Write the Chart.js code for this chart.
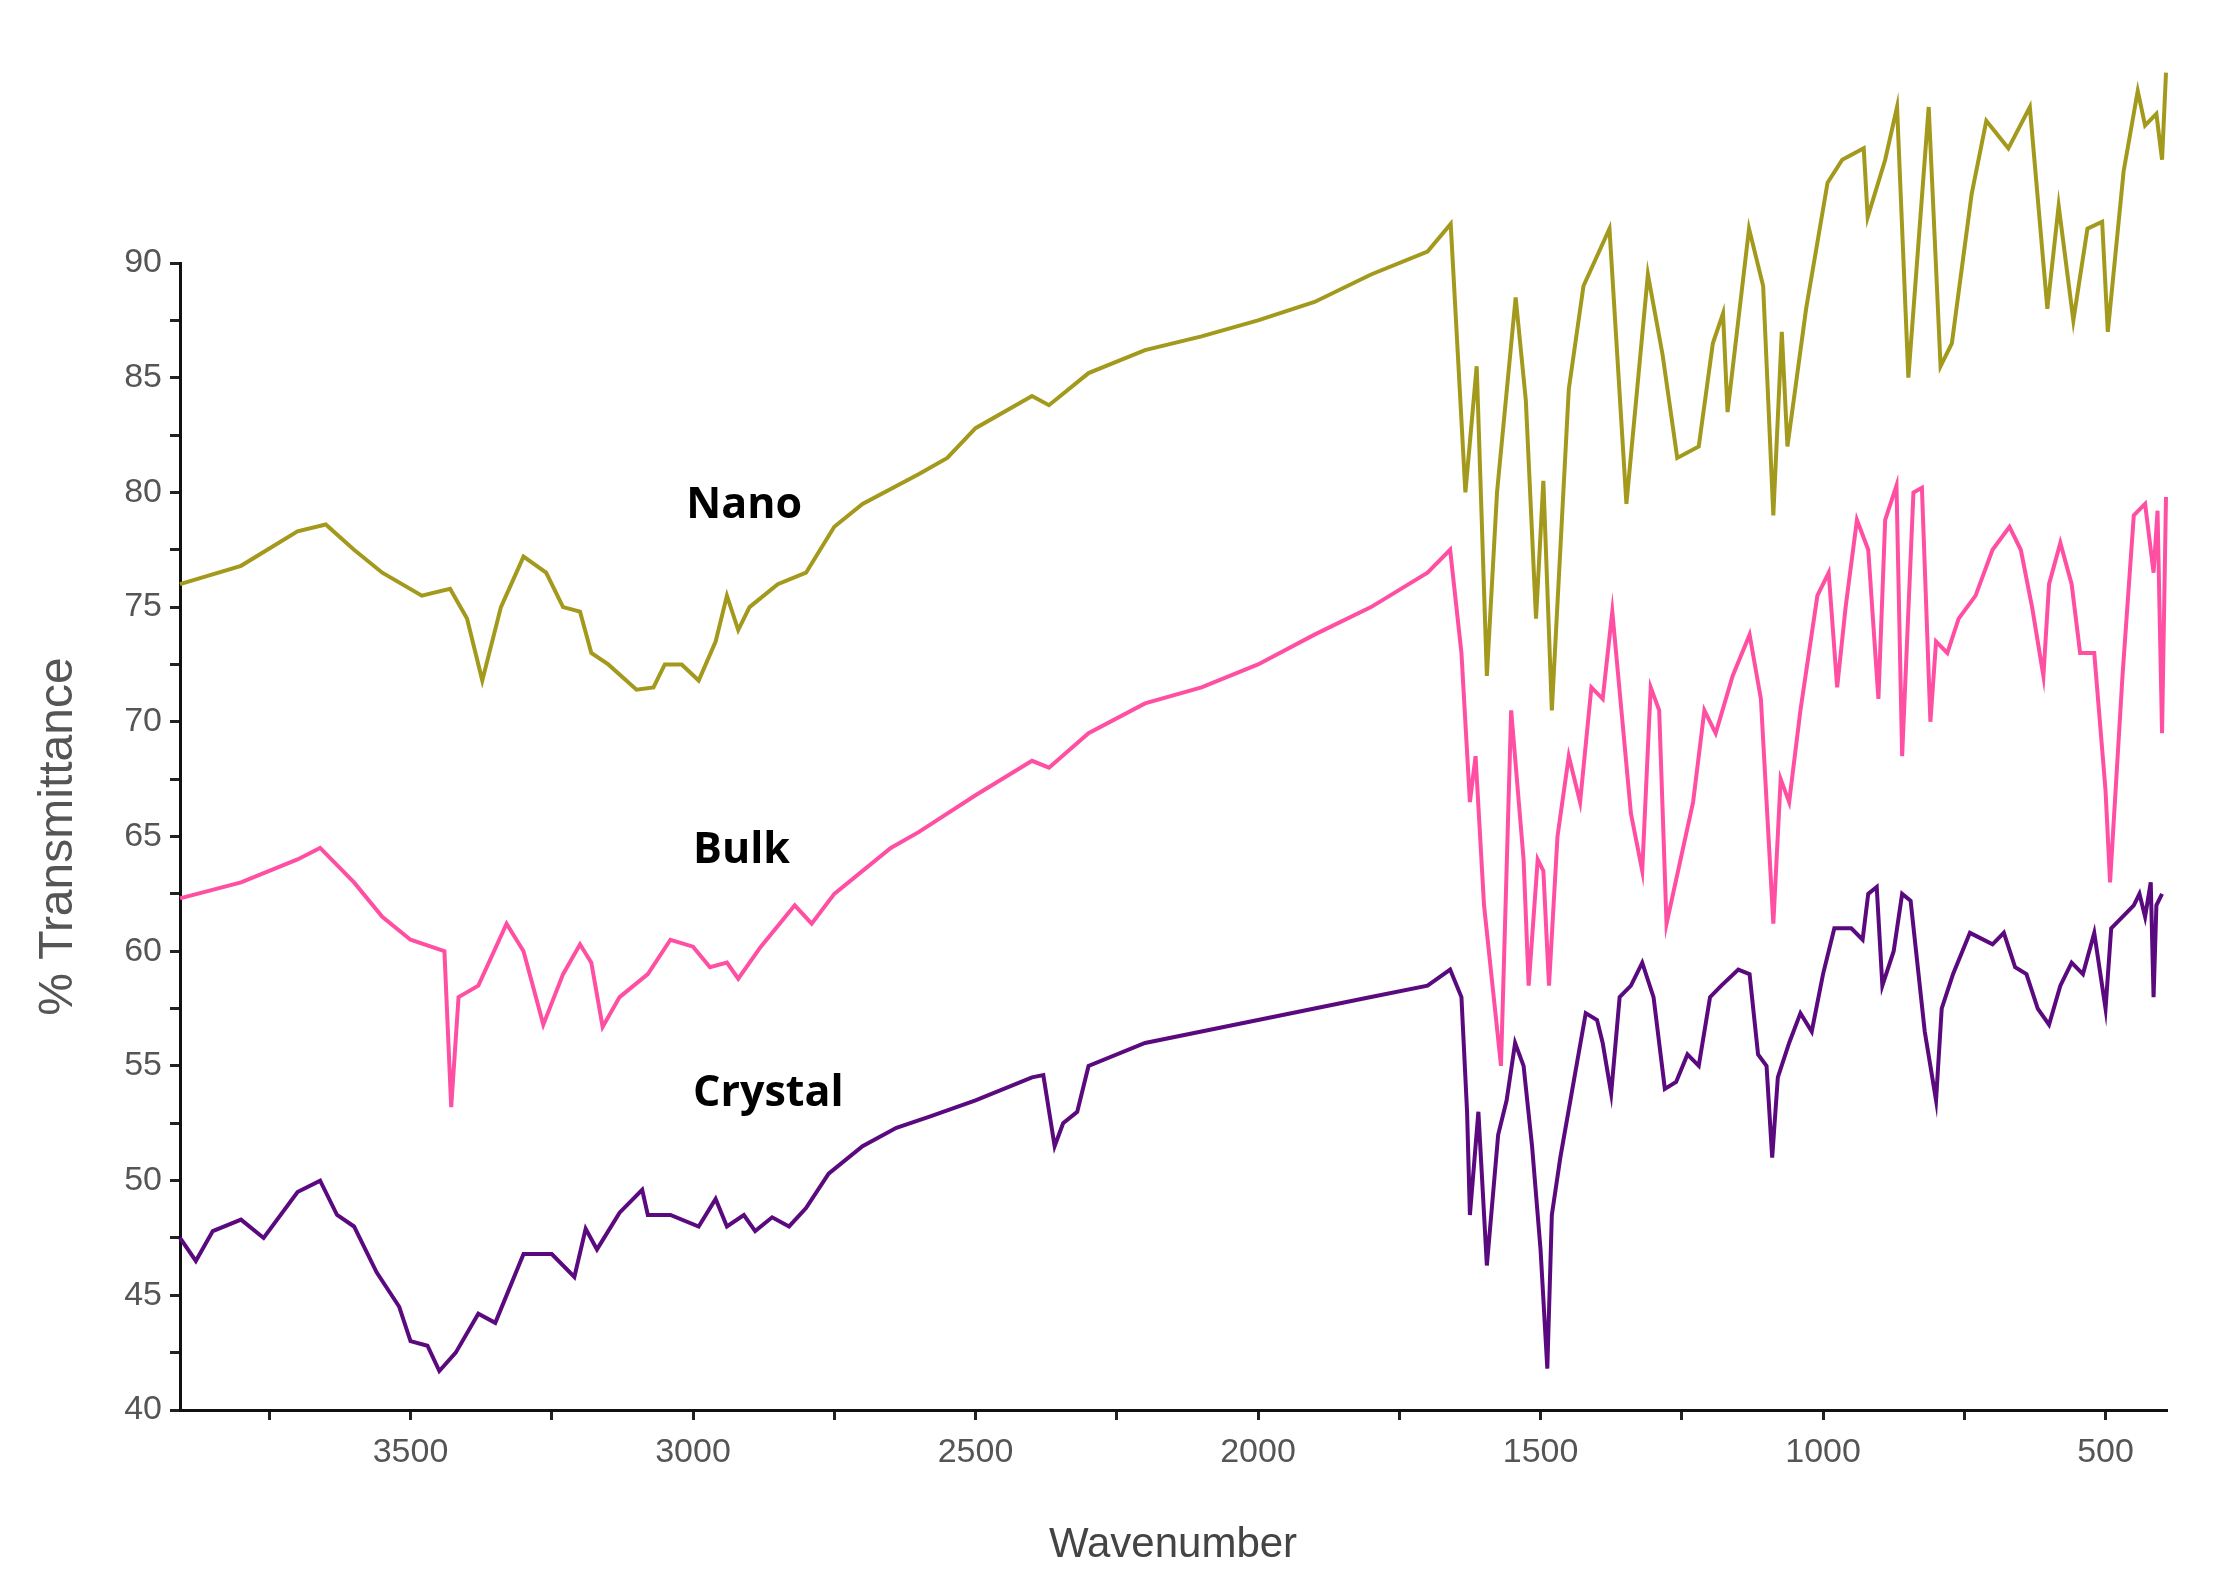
<!DOCTYPE html>
<html><head><meta charset="utf-8">
<script src="https://cdn.jsdelivr.net/npm/chart.js@4"></script>
<style>html,body{margin:0;padding:0;background:#fff}</style>
</head><body>
<canvas id="c" width="2231" height="1596"></canvas>
<script>
const nanoWN=[3908,3800,3700,3650,3600,3550,3480,3430,3400,3373,3340,3300,3260,3230,3200,3180,3150,3100,3070,3050,3020,2990,2960,2940,2920,2900,2850,2800,2750,2700,2600,2550,2500,2400,2370,2300,2200,2100,2000,1900,1800,1700,1659,1633,1613,1595,1577,1544,1526,1508,1495,1480,1450,1424,1378,1348,1310,1284,1258,1220,1195,1177,1169,1131,1106,1088,1073,1063,1030,992,966,928,921,890,869,849,813,792,772,737,711,672,634,603,583,557,532,506,496,468,443,430,410,400,393];
const nanoT=[76,76.8,78.3,78.6,77.5,76.5,75.5,75.8,74.5,71.8,75,77.2,76.5,75,74.8,73,72.5,71.4,71.5,72.5,72.5,71.8,73.5,75.5,74,75,76,76.5,78.5,79.5,80.8,81.5,82.8,84.2,83.8,85.2,86.2,86.8,87.5,88.3,89.5,90.5,91.7,80,85.5,72,80,88.5,84,74.5,80.5,70.5,84.5,89,91.5,79.5,89.5,86,81.5,82,86.5,87.8,83.5,91.5,89,79,87,82,88,93.5,94.5,95,92,94.5,96.8,85,96.8,85.5,86.5,93,96.2,95,96.8,88,92.5,87.5,91.5,91.8,87,94,97.5,96,96.5,94.5,98.3];
const bulkWN=[3908,3800,3700,3660,3600,3550,3500,3440,3428,3415,3380,3330,3300,3265,3230,3200,3180,3160,3130,3080,3040,3000,2970,2940,2920,2880,2820,2790,2750,2650,2600,2500,2400,2370,2300,2200,2100,2000,1900,1800,1700,1660,1640,1625,1615,1600,1570,1552,1530,1521,1505,1495,1485,1470,1450,1430,1410,1390,1373,1340,1320,1305,1290,1277,1230,1210,1190,1160,1130,1110,1088,1075,1060,1040,1010,990,975,960,940,920,902,890,870,860,840,825,810,800,780,760,730,700,670,650,630,610,600,580,560,545,520,500,492,470,450,430,415,408,400,393];
const bulkT=[62.3,63,64,64.5,63,61.5,60.5,60,53.2,58,58.5,61.2,60,56.8,59,60.3,59.5,56.7,58,59,60.5,60.2,59.3,59.5,58.8,60.2,62,61.2,62.5,64.5,65.2,66.8,68.3,68,69.5,70.8,71.5,72.5,73.8,75,76.5,77.5,73,66.5,68.5,62,55,70.5,64,58.5,64,63.5,58.5,65,68.5,66.5,71.5,71,74.8,66,63.5,71.5,70.5,61.2,66.5,70.5,69.5,72,73.8,71,61.2,67.5,66.5,70.5,75.5,76.5,71.5,75,78.8,77.5,71,78.8,80.3,68.5,80,80.2,70,73.5,73,74.5,75.5,77.5,78.5,77.5,75,72,76,77.8,76,73,73,67,63,72,79,79.5,76.5,79.2,69.5,79.8];
const crysWN=[3908,3880,3850,3800,3760,3700,3660,3630,3600,3560,3520,3500,3470,3449,3420,3380,3350,3300,3250,3210,3190,3170,3130,3090,3080,3040,2990,2960,2940,2910,2890,2860,2830,2800,2760,2700,2640,2580,2500,2400,2380,2360,2345,2320,2300,2200,2100,2000,1900,1800,1700,1660,1640,1630,1625,1610,1595,1575,1560,1545,1530,1515,1500,1488,1480,1465,1440,1420,1400,1390,1375,1360,1340,1320,1300,1280,1260,1240,1220,1200,1180,1150,1130,1115,1100,1090,1080,1060,1040,1020,1000,980,950,930,920,905,895,875,860,845,820,800,790,770,740,700,680,660,640,620,600,580,560,540,520,500,490,470,450,440,430,420,415,410,400];
const crysT=[47.5,46.5,47.8,48.3,47.5,49.5,50,48.5,48,46,44.5,43,42.8,41.7,42.5,44.2,43.8,46.8,46.8,45.8,47.9,47,48.6,49.6,48.5,48.5,48,49.2,48,48.5,47.8,48.4,48,48.8,50.3,51.5,52.3,52.8,53.5,54.5,54.6,51.5,52.5,53,55,56,56.5,57,57.5,58,58.5,59.2,58,53,48.5,53,46.3,52,53.5,56,55,51.5,47,41.8,48.5,51,54.5,57.3,57,56,53.8,58,58.5,59.5,58,54,54.3,55.5,55,58,58.5,59.2,59,55.5,55,51,54.5,56,57.3,56.5,59,61,61,60.5,62.5,62.8,58.5,60,62.5,62.2,56.5,53.5,57.5,59,60.8,60.3,60.8,59.3,59,57.5,56.8,58.5,59.5,59,60.8,57.5,61,61.5,62,62.5,61.5,63,58,62,62.5];
const seriesNames=['Nano','Bulk','Crystal'];
const xTicks=[3750,3500,3250,3000,2750,2500,2250,2000,1750,1500,1250,1000,750,500];
const yTicks=[40,42.5,45,47.5,50,52.5,55,57.5,60,62.5,65,67.5,70,72.5,75,77.5,80,82.5,85,87.5,90];
const labelPos=[[3012,79.4],[3000,64.4],[3000,53.8]];

const mk=(wn,t)=>wn.map((w,i)=>({x:w,y:t[i]}));
const labelsPlugin={id:'lbl',afterDatasetsDraw(ch){
  const c=ch.ctx,xs=ch.scales.x,ys=ch.scales.y;
  c.save();c.fillStyle='#000';c.font='bold 43px "Open Sans"';c.textBaseline='middle';
  seriesNames.forEach((n,i)=>c.fillText(n,xs.getPixelForValue(labelPos[i][0]),ys.getPixelForValue(labelPos[i][1])));
  c.restore();}};
const tickFont={family:'"Liberation Sans Narrow","Liberation Sans",Arial',size:34};
new Chart(document.getElementById('c'),{
  type:'line',
  data:{datasets:[
    {label:'Nano',data:mk(nanoWN,nanoT),borderColor:'#a39a1d'},
    {label:'Bulk',data:mk(bulkWN,bulkT),borderColor:'#ff4fa3'},
    {label:'Crystal',data:mk(crysWN,crysT),borderColor:'#5a0a7e'}
  ].map(d=>Object.assign(d,{pointRadius:0,borderWidth:4,tension:0,clip:false,fill:false}))},
  options:{responsive:false,animation:false,
    layout:{padding:{top:263,right:65,left:0,bottom:0}},
    plugins:{legend:{display:false},tooltip:{enabled:false}},
    scales:{
      x:{type:'linear',reverse:true,min:393,max:3908,
        afterBuildTicks:s=>{s.ticks=xTicks.map(v=>({value:v}));},
        afterFit:s=>{s.height=186;},
        ticks:{autoSkip:false,maxRotation:0,color:'#555',font:tickFont,padding:12,callback:v=>v%500===0?String(v):''},
        grid:{drawOnChartArea:false,tickLength:10,color:'#222',lineWidth:3},
        border:{color:'#111',width:3},
        title:{display:true,text:'Wavenumber',color:'#444',font:{family:'"Liberation Sans Narrow","Liberation Sans",Arial',size:42},padding:{top:20,bottom:25}}},
      y:{min:40,max:90,
        afterBuildTicks:s=>{s.ticks=yTicks.map(v=>({value:v}));},
        afterFit:s=>{s.width=180;},
        ticks:{autoSkip:false,color:'#555',font:tickFont,padding:8,callback:v=>v%5===0?String(v):''},
        grid:{drawOnChartArea:false,tickLength:10,color:'#222',lineWidth:3},
        border:{color:'#111',width:3},
        title:{display:true,text:'% Transmittance',color:'#555',font:{family:'"Liberation Sans",Arial',size:48},padding:{top:30,bottom:0}}}
    }},
  plugins:[labelsPlugin]
});
</script></body></html>
